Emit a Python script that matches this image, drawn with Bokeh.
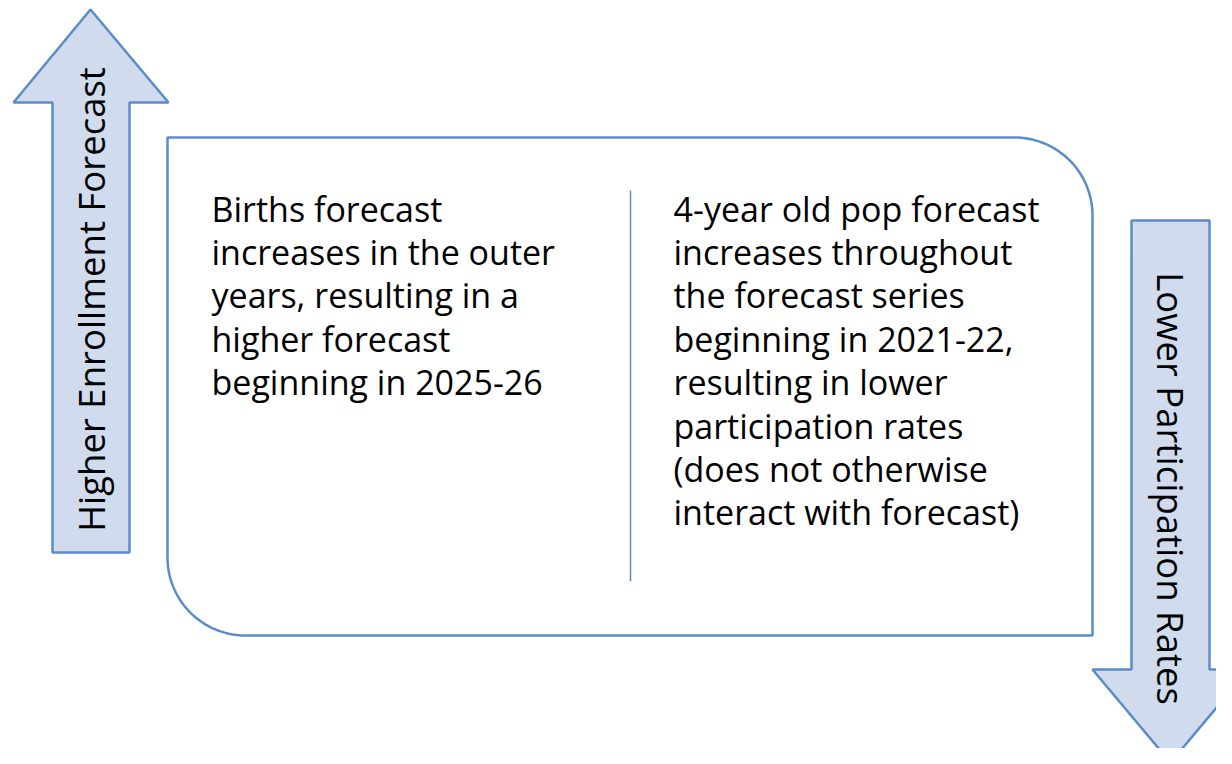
import numpy as np
from bokeh.plotting import figure
from bokeh.models import Range1d
from bokeh.core.properties import value
from bokeh.embed import file_html
from bokeh.resources import INLINE

left_lines = ["Births forecast", "increases in the outer", "years, resulting in a",
              "higher forecast", "beginning in 2025-26"]
right_lines = ["4-year old pop forecast", "increases throughout", "the forecast series",
               "beginning in 2021-22,", "resulting in lower", "participation rates",
               "(does not otherwise", "interact with forecast)"]
up_label = "Higher Enrollment Forecast"
down_label = "Lower Participation Rates"

FILL = "#D0DCEE"
STROKE = "#5B8CC8"
FONT = "Open Sans"
FS = "34px"
LFS = "36.5px"

W, H = 1216, 748
p = figure(width=W, height=H, output_backend="svg", toolbar_location=None,
           x_range=Range1d(0, W), y_range=Range1d(H, 0), min_border=0)
p.axis.visible = False
p.grid.visible = False
p.outline_line_color = None
p.background_fill_color = "white"

# up arrow
ux = [90, 168, 129, 129, 52, 52, 13]
uy = [9, 102, 102, 552, 552, 102, 102]
p.patch(ux, uy, fill_color=FILL, line_color=STROKE, line_width=2.5)

# down arrow
dx = [1131, 1209, 1209, 1248, 1170, 1092, 1131]
dy = [220, 220, 669, 669, 762, 669, 669]
p.patch(dx, dy, fill_color=FILL, line_color=STROKE, line_width=2.5)

# rounded diagonal box
L, T, R, B, r = 167, 137, 1092, 635, 78
t1 = np.linspace(-np.pi / 2, 0, 30)
t2 = np.linspace(np.pi / 2, np.pi, 30)
bx = [L] + list(R - r + r * np.cos(t1)) + [R] + list(L + r + r * np.cos(t2)) + [L]
by = [T] + list(T + r + r * np.sin(t1)) + [B] + list(B - r + r * np.sin(t2)) + [T]
p.patch(bx, by, fill_color="white", line_color=STROKE, line_width=2.5)

# divider
p.line([630, 630], [190, 581], line_color=STROKE, line_width=1.5)

lh = 43.4
p.text(x=[211] * len(left_lines), y=[208 + i * lh for i in range(len(left_lines))],
       text=left_lines, text_font=value(FONT), text_font_size=FS,
       text_baseline="middle", text_align="left", text_color="black")
p.text(x=[673] * len(right_lines), y=[208 + i * lh for i in range(len(right_lines))],
       text=right_lines, text_font=value(FONT), text_font_size=FS,
       text_baseline="middle", text_align="left", text_color="black")

p.text(x=[90], y=[299], text=[up_label], angle=np.pi / 2, text_font=value(FONT),
       text_font_size=LFS, text_baseline="middle", text_align="center", text_color="black")
p.text(x=[1170], y=[488], text=[down_label], angle=-np.pi / 2, text_font=value(FONT),
       text_font_size=LFS, text_baseline="middle", text_align="center", text_color="black")

open("out.html", "w").write(file_html(p, INLINE))
